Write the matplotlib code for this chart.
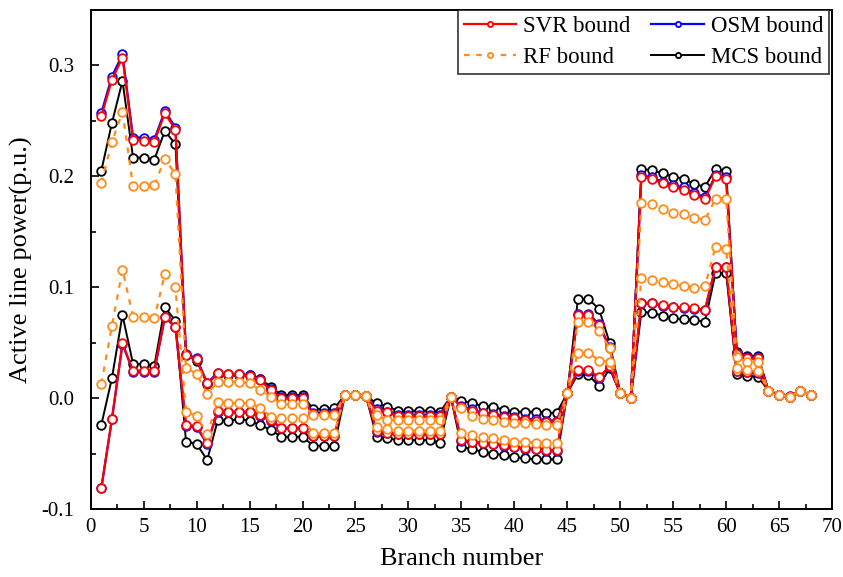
import numpy as np
import matplotlib.pyplot as plt
from matplotlib.ticker import MultipleLocator

plt.rcParams['font.family'] = ['Liberation Serif', 'DejaVu Serif']
plt.rcParams['axes.unicode_minus'] = False

branch = np.arange(1, 69)

# Upper / lower active power bounds per branch (p.u.)
svr_upper = [0.254, 0.287, 0.307, 0.233, 0.232, 0.231, 0.257, 0.242, 0.039, 0.035,
             0.0135, 0.0225, 0.0216, 0.0216, 0.020, 0.0165, 0.0075, 0.000, 0.000, 0.000,
             -0.0144, -0.0144, -0.014, 0.003, 0.003, 0.002, -0.011, -0.0126, -0.016, -0.016,
             -0.016, -0.016, -0.016, 0.0015, -0.0075, -0.011, -0.0135, -0.015, -0.0166, -0.018,
             -0.0195, -0.020, -0.021, -0.021, 0.0045, 0.075, 0.075, 0.066, 0.045, 0.0045,
             0.0006, 0.1997, 0.1976, 0.1937, 0.190, 0.188, 0.183, 0.1795, 0.2003, 0.198,
             0.040, 0.036, 0.036, 0.0069, 0.003, 0.0015, 0.0069, 0.003]
svr_lower = [-0.081, -0.019, 0.0495, 0.025, 0.025, 0.025, 0.0735, 0.0645, -0.024, -0.025,
             -0.0405, -0.0117, -0.012, -0.012, -0.012, -0.015, -0.0195, -0.0265, -0.0265, -0.0265,
             -0.0337, -0.0337, -0.0337, 0.003, 0.003, 0.002, -0.0295, -0.031, -0.032, -0.032,
             -0.032, -0.032, -0.032, 0.0015, -0.0375, -0.039, -0.040, -0.041, -0.042, -0.0436,
             -0.045, -0.0455, -0.0466, -0.0466, 0.0045, 0.0255, 0.0255, 0.019, 0.029, 0.0045,
             0.0006, 0.0861, 0.0861, 0.084, 0.0825, 0.082, 0.081, 0.080, 0.1186, 0.1186,
             0.025, 0.024, 0.0235, 0.0069, 0.003, 0.0015, 0.0069, 0.003]

osm_upper = [0.257, 0.290, 0.310, 0.235, 0.235, 0.233, 0.259, 0.244, 0.040, 0.036,
             0.014, 0.023, 0.022, 0.022, 0.021, 0.017, 0.008, 0.001, 0.001, 0.001,
             -0.013, -0.013, -0.013, 0.003, 0.003, 0.002, -0.010, -0.012, -0.015, -0.015,
             -0.015, -0.015, -0.015, 0.0015, -0.007, -0.010, -0.013, -0.014, -0.016, -0.017,
             -0.019, -0.019, -0.020, -0.020, 0.0045, 0.076, 0.076, 0.067, 0.046, 0.0045,
             0.0006, 0.201, 0.199, 0.195, 0.192, 0.190, 0.185, 0.181, 0.201, 0.199,
             0.041, 0.037, 0.037, 0.007, 0.0032, 0.0017, 0.007, 0.0032]
osm_lower = [-0.081, -0.019, 0.049, 0.024, 0.024, 0.024, 0.073, 0.064, -0.025, -0.026,
             -0.041, -0.012, -0.0125, -0.0125, -0.0125, -0.0155, -0.020, -0.027, -0.027, -0.027,
             -0.034, -0.034, -0.034, 0.003, 0.003, 0.002, -0.030, -0.0315, -0.0325, -0.0325,
             -0.0325, -0.0325, -0.0325, 0.0015, -0.038, -0.0395, -0.0405, -0.0415, -0.0425, -0.044,
             -0.0455, -0.046, -0.047, -0.047, 0.0045, 0.025, 0.025, 0.0185, 0.0285, 0.0045,
             0.0006, 0.0855, 0.0855, 0.0835, 0.082, 0.0815, 0.0805, 0.0795, 0.118, 0.118,
             0.0245, 0.0235, 0.023, 0.0069, 0.003, 0.0015, 0.0069, 0.003]

rf_upper = [0.194, 0.231, 0.258, 0.191, 0.191, 0.192, 0.216, 0.202, 0.0276, 0.022,
            0.004, 0.015, 0.015, 0.015, 0.0135, 0.0075, 0.0015, -0.0054, -0.0054, -0.0054,
            -0.015, -0.015, -0.015, 0.003, 0.003, 0.002, -0.015, -0.0195, -0.0195, -0.0195,
            -0.0195, -0.0195, -0.0195, 0.0015, -0.009, -0.016, -0.019, -0.0195, -0.021, -0.022,
            -0.0225, -0.023, -0.024, -0.024, 0.0045, 0.069, 0.069, 0.061, 0.045, 0.0045,
            0.0006, 0.1757, 0.175, 0.1705, 0.167, 0.1658, 0.1627, 0.1606, 0.180, 0.180,
            0.037, 0.033, 0.033, 0.0069, 0.003, 0.0015, 0.0069, 0.003]
rf_lower = [0.013, 0.065, 0.116, 0.0735, 0.0735, 0.072, 0.112, 0.100, -0.012, -0.016,
            -0.032, -0.0035, -0.004, -0.0045, -0.004, -0.0085, -0.0165, -0.018, -0.018, -0.018,
            -0.0315, -0.0315, -0.0315, 0.003, 0.003, 0.002, -0.026, -0.028, -0.029, -0.029,
            -0.029, -0.029, -0.029, 0.0015, -0.0315, -0.033, -0.035, -0.036, -0.0376, -0.039,
            -0.039, -0.040, -0.040, -0.040, 0.0045, 0.041, 0.041, 0.034, 0.033, 0.0045,
            0.0006, 0.1087, 0.107, 0.1045, 0.1027, 0.101, 0.0997, 0.101, 0.1366, 0.135,
            0.027, 0.0255, 0.025, 0.0069, 0.003, 0.0015, 0.0069, 0.003]

mcs_upper = [0.205, 0.248, 0.286, 0.217, 0.217, 0.215, 0.241, 0.229, 0.039, 0.034,
             0.013, 0.022, 0.021, 0.021, 0.021, 0.0175, 0.0105, 0.003, 0.003, 0.003,
             -0.0096, -0.0096, -0.009, 0.003, 0.003, 0.002, -0.0045, -0.0075, -0.011, -0.011,
             -0.011, -0.011, -0.012, 0.0015, -0.002, -0.0045, -0.007, -0.0075, -0.0105, -0.012,
             -0.012, -0.012, -0.013, -0.013, 0.0045, 0.0895, 0.0895, 0.0805, 0.050, 0.0045,
             0.0006, 0.2066, 0.2057, 0.2027, 0.1997, 0.198, 0.193, 0.1907, 0.2066, 0.205,
             0.042, 0.0384, 0.0384, 0.0069, 0.003, 0.0015, 0.0069, 0.003]
mcs_lower = [-0.024, 0.018, 0.075, 0.031, 0.031, 0.029, 0.082, 0.070, -0.039, -0.041,
             -0.0556, -0.0195, -0.020, -0.019, -0.020, -0.024, -0.0285, -0.0346, -0.0346, -0.0346,
             -0.0427, -0.0427, -0.043, 0.003, 0.003, 0.002, -0.035, -0.036, -0.0376, -0.0376,
             -0.0376, -0.0376, -0.040, 0.0015, -0.0436, -0.046, -0.048, -0.050, -0.051, -0.053,
             -0.054, -0.055, -0.055, -0.055, 0.0045, 0.022, 0.021, 0.011, 0.027, 0.0045,
             0.0006, 0.078, 0.077, 0.0745, 0.072, 0.0714, 0.0705, 0.069, 0.113, 0.113,
             0.022, 0.020, 0.0195, 0.0069, 0.003, 0.0015, 0.0069, 0.003]

fig = plt.figure(figsize=(8.43, 5.77), dpi=100)
ax = fig.add_axes([0.1076, 0.1173, 0.8794, 0.8655])

mk = dict(marker='o', markersize=6.2, markerfacecolor='white', markeredgewidth=1.3)

# draw order: MCS underneath, RF on top
ax.plot(branch, mcs_upper, color='black', lw=1.4, markeredgecolor='black', label='MCS bound', **mk)
ax.plot(branch, mcs_lower, color='black', lw=1.4, markeredgecolor='black', **mk)
ax.plot(branch, osm_upper, color='#0000ff', lw=1.6, markeredgecolor='#0000ff', label='OSM bound', **mk)
ax.plot(branch, osm_lower, color='#0000ff', lw=1.6, markeredgecolor='#0000ff', **mk)
ax.plot(branch, svr_upper, color='#ff0000', lw=1.6, markeredgecolor='#ff0000', label='SVR bound', **mk)
ax.plot(branch, svr_lower, color='#ff0000', lw=1.6, markeredgecolor='#ff0000', **mk)
ax.plot(branch, rf_upper, color='#ff8c1a', lw=1.6, ls=(0, (2.5, 3)), markeredgecolor='#ff8c1a',
        label='RF bound', **mk)
ax.plot(branch, rf_lower, color='#ff8c1a', lw=1.6, ls=(0, (2.5, 3)), markeredgecolor='#ff8c1a', **mk)

ax.set_xlim(0, 70)
ax.set_ylim(-0.1, 0.35)
ax.xaxis.set_major_locator(MultipleLocator(5))
ax.xaxis.set_minor_locator(MultipleLocator(2.5))
ax.yaxis.set_major_locator(MultipleLocator(0.1))
ax.yaxis.set_minor_locator(MultipleLocator(0.05))
ax.set_yticks([-0.1, 0.0, 0.1, 0.2, 0.3])
ax.set_yticklabels(['-0.1', '0.0', '0.1', '0.2', '0.3'])
ax.tick_params(which='both', direction='in', top=False, right=False, labelsize=15, width=1.2)
ax.tick_params(which='major', length=6)
ax.tick_params(which='minor', length=3.5)
ax.tick_params(axis='y', which='major', pad=12)
ax.tick_params(axis='x', which='major', pad=6)
for s in ax.spines.values():
    s.set_linewidth(1.4)

ax.set_xlabel('Branch number', fontsize=19, labelpad=8)
ax.set_ylabel('Active line power(p.u.)', fontsize=19, labelpad=6)

h, l = ax.get_legend_handles_labels()
order = [2, 3, 1, 0]  # SVR, RF, OSM, MCS -> two columns
leg = ax.legend([h[i] for i in order], [l[i] for i in order], ncol=2, loc='upper right',
                bbox_to_anchor=(0.996, 1.0),
                fontsize=16.5, frameon=True, fancybox=False, edgecolor='black',
                borderaxespad=0.0, markerscale=0.6, handlelength=2.3, columnspacing=0.9,
                handletextpad=0.3, borderpad=0.25, labelspacing=0.45)
leg.get_frame().set_linewidth(1.2)

plt.savefig('out.png', dpi=100)
